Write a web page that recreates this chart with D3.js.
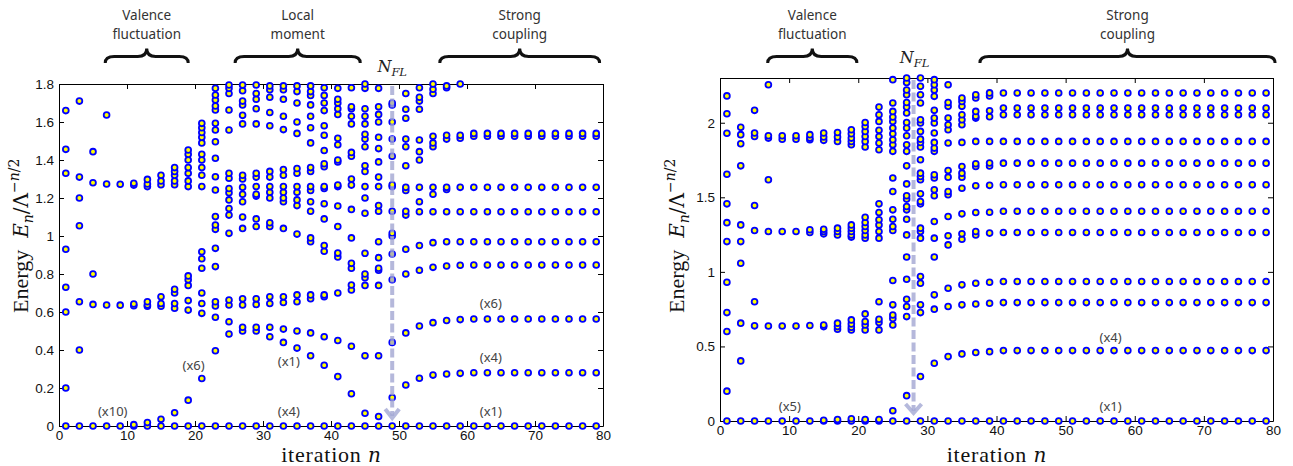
<!DOCTYPE html>
<html>
<head>
<meta charset="utf-8">
<script src="https://cdnjs.cloudflare.com/ajax/libs/d3/7.8.5/d3.min.js"></script>
<style>
  body { margin: 0; background: #fff; }
  .tick text { font-family: "Liberation Sans", Arial, sans-serif; font-size: 13.5px; fill: #111; }
  .tick line, .domain { stroke: #000; }
</style>
</head>
<body>
<div id="chart"></div>
<script>
// odd NRG iterations shown in both panels
var iterations = [1,3,5,7,9,11,13,15,17,19,21,23,25,27,29,31,33,35,37,39,
                  41,43,45,47,49,51,53,55,57,59,61,63,65,67,69,71,73,75,77,79];

// left panel: rescaled energies per iteration (one row per iteration above)
var levelsLeft = [
  [0, 0.20, 0.60, 0.73, 0.93, 1.33, 1.456, 1.66],                       // 1
  [0, 0.40, 0.654, 1.054, 1.20, 1.31, 1.71],                            // 3
  [0, 0.64, 0.80, 1.28, 1.444],                                         // 5
  [0, 0.637, 1.274, 1.637],                                             // 7
  [0, 0.636, 1.272],                                                    // 9
  [0, 0.007, 0.633, 0.642, 1.268, 1.278],                               // 11
  [0, 0.018, 0.63, 0.637, 0.654, 1.26, 1.274, 1.298],                   // 13
  [0, 0.035, 0.63, 0.645, 0.68, 1.27, 1.29, 1.32],                      // 15
  [0, 0.07, 0.62, 0.645, 0.70, 0.72, 1.27, 1.29, 1.32, 1.34, 1.36],     // 17
  [0, 0.136, 0.61, 0.66, 0.74, 0.77, 0.79, 1.26, 1.29, 1.33, 1.36, 1.40, 1.43, 1.453], // 19
  [0, 0.25, 0.593, 0.645, 0.70, 0.83, 0.88, 0.917, 1.26, 1.32, 1.36, 1.40, 1.43, 1.49, 1.52, 1.545, 1.57, 1.593], // 21
  [0, 0.396, 0.572, 0.632, 0.654, 0.839, 0.935, 1.035, 1.058, 1.102, 1.242, 1.312, 1.409, 1.496, 1.558, 1.593, 1.663, 1.684, 1.716, 1.742, 1.777], // 23
  [0, 0.484, 0.549, 0.637, 0.663, 1.014, 1.11, 1.145, 1.19, 1.228, 1.25, 1.304, 1.33, 1.558, 1.663, 1.75, 1.777, 1.795], // 25
  [0, 0.50, 0.52, 0.637, 0.67, 1.04, 1.10, 1.18, 1.22, 1.256, 1.30, 1.32, 1.59, 1.635, 1.69, 1.71, 1.765, 1.795], // 27
  [0, 0.50, 0.52, 0.64, 0.67, 1.05, 1.09, 1.21, 1.22, 1.26, 1.31, 1.33, 1.59, 1.67, 1.72, 1.75, 1.795], // 29
  [0, 0.47, 0.52, 0.645, 0.68, 1.05, 1.07, 1.20, 1.23, 1.26, 1.31, 1.34, 1.58, 1.65, 1.73, 1.77, 1.79], // 31
  [0, 0.44, 0.51, 0.65, 0.68, 1.04, 1.18, 1.20, 1.23, 1.26, 1.32, 1.35, 1.56, 1.63, 1.72, 1.77, 1.79], // 33
  [0, 0.41, 0.50, 0.654, 0.69, 1.01, 1.16, 1.19, 1.23, 1.26, 1.33, 1.355, 1.54, 1.60, 1.70, 1.76, 1.79], // 35
  [0, 0.37, 0.49, 0.67, 0.69, 0.97, 0.99, 1.13, 1.18, 1.24, 1.26, 1.34, 1.36, 1.49, 1.57, 1.63, 1.69, 1.74, 1.76, 1.79], // 37
  [0, 0.32, 0.47, 0.68, 0.69, 0.92, 0.95, 1.09, 1.17, 1.25, 1.26, 1.365, 1.38, 1.45, 1.53, 1.58, 1.66, 1.70, 1.74, 1.78], // 39
  [0, 0.26, 0.45, 0.70, 0.89, 0.91, 1.05, 1.158, 1.26, 1.268, 1.39, 1.40, 1.48, 1.514, 1.64, 1.67, 1.70, 1.72, 1.777], // 41
  [0, 0.17, 0.42, 0.716, 0.742, 0.83, 0.856, 0.99, 1.14, 1.268, 1.30, 1.42, 1.44, 1.59, 1.63, 1.67, 1.68, 1.78], // 43
  [0, 0.067, 0.37, 0.74, 0.78, 0.80, 0.909, 1.12, 1.20, 1.26, 1.34, 1.37, 1.47, 1.51, 1.535, 1.59, 1.63, 1.67, 1.777, 1.80], // 45
  [0, 0.05, 0.37, 0.74, 0.82, 0.83, 0.886, 0.97, 1.13, 1.16, 1.26, 1.31, 1.39, 1.46, 1.52, 1.60, 1.64, 1.68, 1.777], // 47
  [0, 0.15, 0.44, 0.77, 0.905, 1.0, 1.014, 1.13, 1.26, 1.27, 1.42, 1.51, 1.60, 1.69, 1.70], // 49
  [0, 0.216, 0.49, 0.80, 0.93, 1.11, 1.13, 1.24, 1.256, 1.37, 1.47, 1.51, 1.62, 1.667, 1.75], // 51
  [0, 0.251, 0.526, 0.82, 0.95, 1.128, 1.18, 1.256, 1.40, 1.444, 1.505, 1.667, 1.71, 1.73, 1.78], // 53
  [0, 0.268, 0.544, 0.835, 0.965, 1.128, 1.22, 1.256, 1.47, 1.49, 1.525, 1.75, 1.772, 1.80], // 55
  [0, 0.274, 0.555, 0.842, 0.97, 1.128, 1.245, 1.256, 1.51, 1.53, 1.78, 1.79], // 57
  [0, 0.277, 0.56, 0.846, 0.97, 1.128, 1.256, 1.515, 1.53, 1.80],       // 59
  [0, 0.28, 0.563, 0.847, 0.97, 1.128, 1.256, 1.525, 1.54],             // 61
  [0, 0.28, 0.563, 0.847, 0.97, 1.128, 1.256, 1.525, 1.54],             // 63
  [0, 0.28, 0.563, 0.847, 0.97, 1.128, 1.256, 1.525, 1.54],             // 65
  [0, 0.28, 0.563, 0.847, 0.97, 1.128, 1.256, 1.525, 1.54],             // 67
  [0, 0.28, 0.563, 0.847, 0.97, 1.128, 1.256, 1.525, 1.54],             // 69
  [0, 0.28, 0.563, 0.847, 0.97, 1.128, 1.256, 1.525, 1.54],             // 71
  [0, 0.28, 0.563, 0.847, 0.97, 1.128, 1.256, 1.525, 1.54],             // 73
  [0, 0.28, 0.563, 0.847, 0.97, 1.128, 1.256, 1.525, 1.54],             // 75
  [0, 0.28, 0.563, 0.847, 0.97, 1.128, 1.256, 1.525, 1.54],             // 77
  [0, 0.28, 0.563, 0.847, 0.97, 1.128, 1.256, 1.525, 1.54]              // 79
];

// right panel
var levelsRight = [
  [0, 0.20, 0.60, 0.727, 0.93, 1.203, 1.33, 1.456, 1.655, 1.93, 2.06, 2.18], // 1
  [0, 0.403, 0.656, 1.058, 1.203, 1.315, 1.711, 1.859, 1.92, 1.969],        // 3
  [0, 0.638, 0.80, 1.277, 1.445, 1.908, 1.931, 2.083],                      // 5
  [0, 0.637, 1.271, 1.618, 1.897, 1.913, 2.255],                            // 7
  [0, 0.637, 1.271, 1.89, 1.913],                                           // 9
  [0, 0.637, 1.271, 1.89, 1.913],                                           // 11
  [0, 0.64, 1.264, 1.282, 1.886, 1.897, 1.92],                              // 13
  [0, 0.005, 0.633, 0.644, 1.255, 1.271, 1.286, 1.882, 1.904, 1.931],       // 15
  [0, 0.01, 0.615, 0.633, 0.656, 1.248, 1.271, 1.293, 1.875, 1.904, 1.935], // 17
  [0, 0.015, 0.611, 0.629, 0.651, 0.678, 1.233, 1.248, 1.271, 1.293, 1.315, 1.852, 1.875, 1.897, 1.926, 1.953], // 19
  [0, 0.01, 0.611, 0.644, 0.667, 0.718, 1.226, 1.248, 1.277, 1.304, 1.331, 1.366, 1.837, 1.875, 1.908, 1.942, 1.975, 2.002], // 21
  [0, 0.01, 0.611, 0.66, 0.682, 0.80, 1.226, 1.271, 1.315, 1.349, 1.398, 1.456, 1.819, 1.864, 1.908, 1.949, 2.009, 2.054, 2.105], // 23
  [0, 0.069, 0.644, 0.688, 0.711, 0.779, 0.942, 1.277, 1.304, 1.353, 1.416, 1.539, 1.629, 1.808, 1.852, 1.886, 1.926, 1.964, 2.009, 2.038, 2.076, 2.132, 2.289], // 25
  [0, 0.17, 0.70, 0.768, 0.816, 0.951, 1.10, 1.248, 1.353, 1.416, 1.438, 1.488, 1.51, 1.59, 1.711, 1.808, 1.852, 1.913, 1.964, 2.002, 2.065, 2.105, 2.136, 2.188, 2.22, 2.27, 2.30], // 27
  [0, 0.298, 0.727, 0.779, 0.924, 0.969, 1.226, 1.271, 1.293, 1.456, 1.472, 1.523, 1.618, 1.64, 1.662, 1.752, 1.837, 1.868, 1.89, 1.942, 1.998, 2.02, 2.132, 2.188, 2.244, 2.30], // 29
  [0, 0.387, 0.75, 0.846, 1.10, 1.226, 1.338, 1.51, 1.55, 1.629, 1.651, 1.808, 1.83, 1.868, 1.931, 1.998, 2.031, 2.083, 2.177, 2.22, 2.255, 2.289], // 31
  [0, 0.432, 0.768, 0.89, 1.181, 1.242, 1.371, 1.517, 1.539, 1.635, 1.68, 1.864, 1.953, 1.987, 2.031, 2.11, 2.136, 2.255], // 33
  [0, 0.45, 0.779, 0.913, 1.219, 1.255, 1.389, 1.561, 1.635, 1.662, 1.707, 1.868, 1.987, 2.02, 2.054, 2.11, 2.143, 2.166], // 35
  [0, 0.459, 0.785, 0.924, 1.248, 1.271, 1.398, 1.577, 1.707, 1.725, 1.875, 2.031, 2.043, 2.076, 2.166, 2.188], // 37
  [0, 0.465, 0.79, 0.93, 1.26, 1.40, 1.58, 1.71, 1.73, 1.875, 2.04, 2.08, 2.18, 2.20], // 39
  [0, 0.472, 0.794, 0.935, 1.264, 1.406, 1.584, 1.729, 1.875, 2.054, 2.099, 2.199], // 41
  [0, 0.472, 0.794, 0.935, 1.264, 1.406, 1.584, 1.729, 1.875, 2.054, 2.099, 2.199], // 43
  [0, 0.472, 0.794, 0.935, 1.264, 1.406, 1.584, 1.729, 1.875, 2.054, 2.099, 2.199], // 45
  [0, 0.472, 0.794, 0.935, 1.264, 1.406, 1.584, 1.729, 1.875, 2.054, 2.099, 2.199], // 47
  [0, 0.472, 0.794, 0.935, 1.264, 1.406, 1.584, 1.729, 1.875, 2.054, 2.099, 2.199], // 49
  [0, 0.472, 0.794, 0.935, 1.264, 1.406, 1.584, 1.729, 1.875, 2.054, 2.099, 2.199], // 51
  [0, 0.472, 0.794, 0.935, 1.264, 1.406, 1.584, 1.729, 1.875, 2.054, 2.099, 2.199], // 53
  [0, 0.472, 0.794, 0.935, 1.264, 1.406, 1.584, 1.729, 1.875, 2.054, 2.099, 2.199], // 55
  [0, 0.472, 0.794, 0.935, 1.264, 1.406, 1.584, 1.729, 1.875, 2.054, 2.099, 2.199], // 57
  [0, 0.472, 0.794, 0.935, 1.264, 1.406, 1.584, 1.729, 1.875, 2.054, 2.099, 2.199], // 59
  [0, 0.472, 0.794, 0.935, 1.264, 1.406, 1.584, 1.729, 1.875, 2.054, 2.099, 2.199], // 61
  [0, 0.472, 0.794, 0.935, 1.264, 1.406, 1.584, 1.729, 1.875, 2.054, 2.099, 2.199], // 63
  [0, 0.472, 0.794, 0.935, 1.264, 1.406, 1.584, 1.729, 1.875, 2.054, 2.099, 2.199], // 65
  [0, 0.472, 0.794, 0.935, 1.264, 1.406, 1.584, 1.729, 1.875, 2.054, 2.099, 2.199], // 67
  [0, 0.472, 0.794, 0.935, 1.264, 1.406, 1.584, 1.729, 1.875, 2.054, 2.099, 2.199], // 69
  [0, 0.472, 0.794, 0.935, 1.264, 1.406, 1.584, 1.729, 1.875, 2.054, 2.099, 2.199], // 71
  [0, 0.472, 0.794, 0.935, 1.264, 1.406, 1.584, 1.729, 1.875, 2.054, 2.099, 2.199], // 73
  [0, 0.472, 0.794, 0.935, 1.264, 1.406, 1.584, 1.729, 1.875, 2.054, 2.099, 2.199], // 75
  [0, 0.472, 0.794, 0.935, 1.264, 1.406, 1.584, 1.729, 1.875, 2.054, 2.099, 2.199], // 77
  [0, 0.472, 0.794, 0.935, 1.264, 1.406, 1.584, 1.729, 1.875, 2.054, 2.099, 2.199]  // 79
];

var xTicks = [0, 10, 20, 30, 40, 50, 60, 70, 80];
var yTicksLeft = [0, 0.2, 0.4, 0.6, 0.8, 1, 1.2, 1.4, 1.6, 1.8];
var yTicksRight = [0, 0.5, 1, 1.5, 2];

// regimes (braces above the plots), in iteration units
var regimesLeft = [
  {lines: ["Valence", "fluctuation"], from: 6.8, to: 19.0},
  {lines: ["Local", "moment"], from: 25.9, to: 44.3},
  {lines: ["Strong", "coupling"], from: 56.0, to: 79.5}
];
var regimesRight = [
  {lines: ["Valence", "fluctuation"], from: 6.9, to: 19.8},
  {lines: ["Strong", "coupling"], from: 37.6, to: 80.3}
];

// degeneracy labels
var notesLeft = [
  {text: "(x10)", n: 7.9, e: 0.075}, {text: "(x6)", n: 19.8, e: 0.317},
  {text: "(x1)", n: 33.8, e: 0.338}, {text: "(x4)", n: 33.8, e: 0.075},
  {text: "(x6)", n: 63.5, e: 0.646}, {text: "(x4)", n: 63.5, e: 0.362},
  {text: "(x1)", n: 63.5, e: 0.075}
];
var notesRight = [
  {text: "(x5)", n: 10.1, e: 0.096}, {text: "(x4)", n: 56.5, e: 0.562},
  {text: "(x1)", n: 56.5, e: 0.10}
];

var svg = d3.select("#chart").append("svg")
  .attr("width", 1293)
  .attr("height", 466);

function fmt(d) { return String(+d.toFixed(1)); }

function drawPanel(cfg) {
  var x = d3.scaleLinear().domain([0, 80]).range([cfg.left, cfg.right]);
  var y = d3.scaleLinear().domain([0, cfg.ymax]).range([cfg.bottom, cfg.top]);

  var g = svg.append("g");

  // flatten rows into points
  var pts = [];
  cfg.levels.forEach(function(row, i) {
    row.forEach(function(e) { pts.push({n: iterations[i], e: e}); });
  });

  // axes (MATLAB style: ticks inside, box on all sides)
  g.append("g")
   .attr("transform", "translate(0," + cfg.bottom + ")")
   .call(d3.axisBottom(x).tickValues(xTicks).tickSizeInner(-5).tickSizeOuter(0).tickPadding(4));
  g.append("g")
   .attr("transform", "translate(0," + cfg.top + ")")
   .call(d3.axisTop(x).tickValues(xTicks).tickSizeInner(-5).tickSizeOuter(0).tickFormat(""));
  g.append("g")
   .attr("transform", "translate(" + cfg.left + ",0)")
   .call(d3.axisLeft(y).tickValues(cfg.yTicks).tickSizeInner(-5).tickSizeOuter(0).tickPadding(5).tickFormat(fmt));
  g.append("g")
   .attr("transform", "translate(" + cfg.right + ",0)")
   .call(d3.axisRight(y).tickValues(cfg.yTicks).tickSizeInner(-5).tickSizeOuter(0).tickFormat(""));

  // energy levels
  g.append("g").selectAll("circle")
   .data(pts)
   .enter()
   .append("circle")
   .attr("cx", function(d) { return x(d.n); })
   .attr("cy", function(d) { return y(d.e); })
   .attr("r", 2.9)
   .style("fill", "#ffff00")
   .style("stroke", "#0000ff")
   .style("stroke-width", 1.8);

  // N_FL dashed arrow
  var ax = x(cfg.nfl);
  var tipY = cfg.bottom - cfg.arrowGap;
  g.append("line")
   .attr("x1", ax).attr("x2", ax)
   .attr("y1", cfg.top + 2).attr("y2", tipY - 2)
   .style("stroke", "#a3a7d3")
   .style("stroke-width", 4)
   .style("stroke-dasharray", "9,3.5")
   .style("opacity", 0.8);
  g.append("path")
   .attr("d", "M" + (ax - cfg.headW) + "," + (tipY - 9) + "L" + ax + "," + tipY + "L" + (ax + cfg.headW) + "," + (tipY - 9))
   .style("fill", "none")
   .style("stroke", "#a3a7d3")
   .style("stroke-width", 4)
   .style("opacity", 0.8);

  // N_FL label
  var nl = g.append("text")
   .attr("x", ax + cfg.nflDx).attr("y", cfg.nflY)
   .attr("text-anchor", "middle")
   .style("font-family", "'DejaVu Serif', serif")
   .style("font-style", "italic")
   .style("font-size", "16px")
   .style("fill", "#222");
  nl.append("tspan").text("N");
  nl.append("tspan").attr("dy", 4).style("font-size", "11.5px").text("FL");

  // degeneracy notes
  g.append("g").selectAll("text")
   .data(cfg.notes)
   .enter()
   .append("text")
   .attr("x", function(d) { return x(d.n); })
   .attr("y", function(d) { return y(d.e); })
   .attr("dy", "0.35em")
   .attr("text-anchor", "middle")
   .style("font-family", "'Noto Sans', sans-serif")
   .style("font-size", "13px")
   .style("fill", "#444")
   .text(function(d) { return d.text; });

  // regime braces and titles
  cfg.regimes.forEach(function(r) {
    var x1 = x(r.from), x2 = x(r.to), mid = (x1 + x2) / 2;
    var y0 = 63, yb = 56.5, yc = 48.5, q = 9;
    g.append("path")
     .attr("d", "M" + x1 + "," + y0 +
                "Q" + x1 + "," + yb + " " + (x1 + q) + "," + yb +
                "L" + (mid - q) + "," + yb +
                "Q" + mid + "," + yb + " " + mid + "," + yc +
                "Q" + mid + "," + yb + " " + (mid + q) + "," + yb +
                "L" + (x2 - q) + "," + yb +
                "Q" + x2 + "," + yb + " " + x2 + "," + y0)
     .style("fill", "none")
     .style("stroke", "#111")
     .style("stroke-width", 3);
    r.lines.forEach(function(t, i) {
      g.append("text")
       .attr("x", mid).attr("y", 20 + i * 18.5)
       .attr("text-anchor", "middle")
       .style("font-family", "'Noto Sans', sans-serif")
       .style("font-size", "13.5px")
       .style("fill", "#333")
       .text(t);
    });
  });

  // axis labels
  var xl = g.append("text")
   .attr("x", (cfg.left + cfg.right) / 2).attr("y", 462)
   .attr("text-anchor", "middle")
   .style("font-family", "'Liberation Serif', serif")
   .style("font-size", "22px")
   .style("fill", "#111");
  xl.append("tspan").style("letter-spacing", "0.8px").text("iteration ");
  xl.append("tspan").style("font-family", "'DejaVu Serif', serif").style("font-size", "20px")
    .style("font-style", "italic").text("n");

  var yl = g.append("text")
   .attr("transform", "translate(" + cfg.ylabX + ",313) rotate(-90)")
   .attr("text-anchor", "start")
   .style("font-family", "'Liberation Serif', serif")
   .style("font-size", "22px")
   .style("fill", "#111");
  yl.append("tspan").text("Energy");
  yl.append("tspan").attr("dx", 12).style("font-family", "'DejaVu Serif', serif").style("font-size", "20px")
    .style("font-style", "italic").text("E");
  yl.append("tspan").attr("dy", 5).style("font-family", "'DejaVu Serif', serif").style("font-style", "italic")
    .style("font-size", "14px").text("n");
  yl.append("tspan").attr("dy", -5).style("font-family", "'DejaVu Serif', serif").style("font-size", "20px")
    .text("/\u039B");
  yl.append("tspan").attr("dy", -9).style("font-family", "'DejaVu Serif', serif").style("font-size", "14px")
    .text("\u2212");
  yl.append("tspan").style("font-family", "'DejaVu Serif', serif").style("font-size", "14px")
    .style("font-style", "italic").text("n");
  yl.append("tspan").style("font-family", "'DejaVu Serif', serif").style("font-size", "14px").text("/2");
}

drawPanel({
  left: 59, right: 603, top: 84, bottom: 426, ymax: 1.8,
  levels: levelsLeft, yTicks: yTicksLeft, notes: notesLeft, regimes: regimesLeft,
  nfl: 49, arrowGap: 8, headW: 7, nflDx: 0, nflY: 72, ylabX: 28
});

drawPanel({
  left: 720, right: 1273, top: 78, bottom: 421, ymax: 2.3,
  levels: levelsRight, yTicks: yTicksRight, notes: notesRight, regimes: regimesRight,
  nfl: 28, arrowGap: 8, headW: 8, nflDx: 1, nflY: 63, ylabX: 684
});
</script>
</body>
</html>
